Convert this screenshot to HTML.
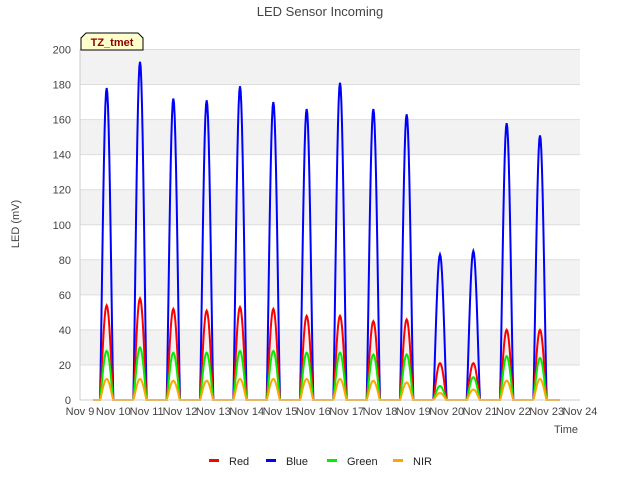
<!DOCTYPE html>
<html><head><meta charset="utf-8"><style>
body{margin:0;background:#fff;font-family:"Liberation Sans",sans-serif}
svg text{font-family:"Liberation Sans",sans-serif}
</style></head><body>
<svg width="640" height="480" viewBox="0 0 640 480">
<rect width="640" height="480" fill="#fff"/>
<text x="320" y="16" text-anchor="middle" font-size="13" fill="#444">LED Sensor Incoming</text>
<g id="grid"></g>
<g id="series"></g>
<g id="axes"></g>
<g>
<path d="M81,50 L81,38 L86,33 L138,33 L143,38 L143,50 Z" fill="#ffffcc" stroke="#000"/>
<text x="112" y="46" text-anchor="middle" font-size="11" font-weight="bold" fill="#8b0000">TZ_tmet</text>
</g>
<text x="566" y="433" text-anchor="middle" font-size="11" fill="#444">Time</text>
<text transform="translate(19,224) rotate(-90)" text-anchor="middle" font-size="11" fill="#444">LED (mV)</text>
<g id="legend"></g>
</svg>
<script>
const days=["Nov 9","Nov 10","Nov 11","Nov 12","Nov 13","Nov 14","Nov 15","Nov 16","Nov 17","Nov 18","Nov 19","Nov 20","Nov 21","Nov 22","Nov 23","Nov 24"];
const yTicks=[0,20,40,60,80,100,120,140,160,180,200];
const bluePeaks=[178,193,172,171,179,170,166,181,166,163,83,85,158,151];
const redPeaks=[54,58,52,51,53,52,48,48,45,46,21,21,40,40];
const greenPeaks=[28,30,27,27,28,28,27,27,26,26,8,13,25,24];
const nirPeaks=[12,12,11,11,12,12,12,12,11,10,4,6,11,12];
const L=80,R=580,T=49.5,B=400;
const x=d=>L+(R-L)*d/15;
const y=v=>B-(B-T)*v/200;
const NS="http://www.w3.org/2000/svg";
function mk(t,a,p){const e=document.createElementNS(NS,t);for(const k in a)e.setAttribute(k,a[k]);p.appendChild(e);return e;}
const grid=document.getElementById('grid'),axes=document.getElementById('axes'),series=document.getElementById('series'),legend=document.getElementById('legend');
for(let i=0;i<yTicks.length-1;i++){
 if(i%2==1){const r=mk('rect',{x:L,y:y(yTicks[i+1]),width:R-L,height:y(yTicks[i])-y(yTicks[i+1]),fill:'#f2f2f2'},grid);
 
 }
}
yTicks.forEach(v=>{
 const l=mk('line',{x1:L,x2:R,y1:y(v),y2:y(v),stroke:'#ddd'},grid);
 
 
 const t=mk('text',{x:L-9,y:y(v)+4,'text-anchor':'end','font-size':11,fill:'#444'},axes);t.textContent=v;
 
 
});
mk('line',{x1:L,x2:L,y1:T,y2:B,stroke:'#ccc'},axes);
mk('line',{x1:L,x2:R,y1:B,y2:B,stroke:'#ccc'},axes);
days.forEach((d,i)=>{
 const t=mk('text',{x:x(i),y:B+15,'text-anchor':'middle','font-size':11,fill:'#444'},axes);t.textContent=d;
 
 
});
function path(peaks,color,w,name){
 let d='M'+x(0.4)+','+y(0);
 peaks.forEach((p,i)=>{
  const s=i+0.6,e=i+1.0;
  d+=' L'+x(s)+','+y(0);
  for(let k=0;k<=20;k++){const f=k/20;d+=' L'+x(s+(e-s)*f).toFixed(2)+','+y(p*Math.pow(Math.sin(Math.PI*f),1.2)).toFixed(2);}
 });
 d+=' L'+x(14.4)+','+y(0);
 const el=mk('path',{d,fill:'none',stroke:color,'stroke-width':w},series);
 
 
}
path(bluePeaks,'#0000ff',2,'blue-line');
path(redPeaks,'#ff0000',2,'red-line');
path(greenPeaks,'#00ee00',2,'green-line');
path(nirPeaks,'#ffa500',2,'nir-line');
const leg=[["Red","#ff0000",209],["Blue","#0000ff",266],["Green","#00ee00",327],["NIR","#ffa500",393]];
leg.forEach(([n,c,lx])=>{
 const g=mk('g',{},legend);
 
 
 mk('rect',{x:lx,y:459,width:10,height:3,fill:c},g);
 const t=mk('text',{x:lx+20,y:465,'font-size':11,fill:'#222'},g);t.textContent=n;
});
</script>
</body></html>
